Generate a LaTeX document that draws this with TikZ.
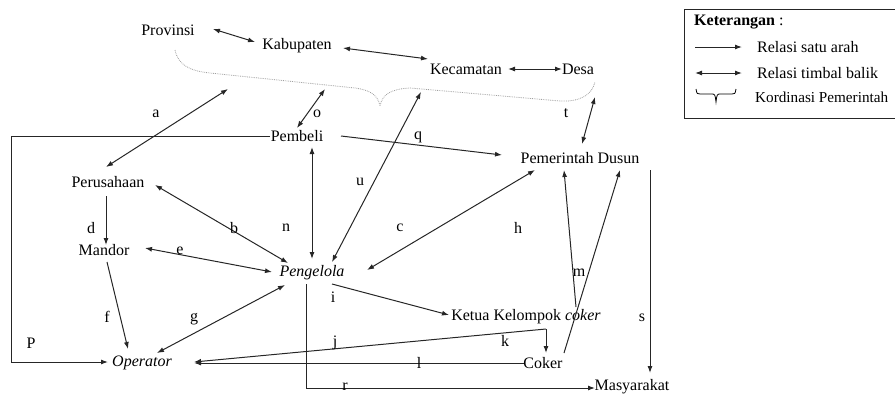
\documentclass[tikz,border=0pt]{standalone}
\usepackage{fontspec}
\setmainfont{Liberation Serif}
\usetikzlibrary{arrows.meta,calc}
\begin{document}
\begin{tikzpicture}[x=1pt,y=-1pt,
  txt/.style={inner sep=0pt, font=\fontsize{16}{18}\selectfont},
  lab/.style={inner sep=0pt, font=\fontsize{16}{18}\selectfont},
  one/.style={-{Latex[length=7pt,width=5pt]}, line width=1pt, draw=black!85},
  two/.style={{Latex[length=7pt,width=5pt]}-{Latex[length=7pt,width=5pt]}, line width=1pt, draw=black!85},
  plainline/.style={line width=1pt, draw=black!85},
  govbrace/.style={draw=gray!75, densely dotted, line width=0.8pt}]
\useasboundingbox (0,0) rectangle (895,394);
% nodes
\node[txt] (prov) at (168,30) {Provinsi};
\node[txt] (kab) at (297,46) {Kabupaten};
\node[txt] (kec) at (466,69) {Kecamatan};
\node[txt] (desa) at (578,69) {Desa};
\node[txt] (pemb) at (297,136) {Pembeli};
\node[txt] (pemdus) at (580,158) {Pemerintah Dusun};
\node[txt] (perus) at (108,182) {Perusahaan};
\node[txt] (mandor) at (104,250) {Mandor};
\node[txt] (peng) at (312,273) {\textit{Pengelola}};
\node[txt] (ketua) at (526,317) {Ketua Kelompok \textit{coker}};
\node[txt] (oper) at (142,363) {\textit{Operator}};
\node[txt] (coker) at (543,363) {Coker};
\node[txt] (masy) at (632,387) {Masyarakat};
% brace (government coordination)
\draw[govbrace] (175,50) .. controls (178,65) and (190,71) .. (210,73) -- (355,88) .. controls (370,90) and (378,95) .. (380,106) .. controls (382,95) and (390,89) .. (410,88) -- (560,101) .. controls (580,102) and (592,95) .. (595,82);
\coordinate (ba) at (228,89);
\coordinate (bo) at (325,89);
\coordinate (bu) at (421,92);
\coordinate (bt) at (595,97);
% government chain
\draw[two] ($(prov)+(45,-1)$) -- ($(kab)+(-42,-4)$);
\draw[two] ($(kab)+(46,2)$) -- ($(kec)+(-38,-10)$);
\draw[two] ($(kec)+(42,0)$) -- ($(desa)+(-16,0)$);
% links to brace
\draw[two] ($(perus)+(-2,-15)$) -- (ba);
\draw[two] ($(pemb)+(0,-8)$) -- (bo);
\draw[two] ($(peng)+(20,-11)$) -- (bu);
\draw[two] ($(pemdus)+(2,-14)$) -- (bt);
% other connectors
\draw[one] ($(pemb)+(44,0)$) -- ($(pemdus)+(-78,-3)$);
\draw[one] ($(pemb)+(-27,0)$) -- ++(-259,0) |- ($(oper)+(-34,-1)$);
\draw[two] ($(pemb)+(15,11)$) -- ($(peng)+(0,-14)$);
\draw[two] ($(perus)+(47,3)$) -- ($(peng)+(-24,-10)$);
\draw[one] ($(perus)+(-2,14)$) -- ($(mandor)+(2,-5)$);
\draw[two] ($(mandor)+(41,-2)$) -- ($(peng)+(-40,-1)$);
\draw[one] ($(mandor)+(3,12)$) -- ($(oper)+(-14,-14)$);
\draw[two] ($(oper)+(15,-10)$) -- ($(peng)+(-27,12)$);
\draw[two] ($(peng)+(55,-3)$) -- ($(pemdus)+(-45,12)$);
\draw[one] ($(peng)+(20,11)$) -- ($(ketua)+(-77,-2)$);
\draw[one] ($(ketua)+(50,-10)$) -- ($(pemdus)+(-16,12)$);
\draw[one] ($(coker)+(21,-10)$) -- ($(pemdus)+(40,12)$);
\coordinate (kc) at ($(ketua)+(20,12)$);
\draw[one] (kc) -- ($(oper)+(52,-1)$);
\draw[one] (kc) -- ($(coker)+(3,-10)$);
\draw[one] ($(coker)+(-19,0)$) -- ($(oper)+(52,0)$);
\draw[one] ($(peng)+(-6,11)$) |- ($(masy)+(-37,1)$);
\draw[one] ($(pemdus)+(70,12)$) -- ($(masy)+(18,-14)$);
% labels
\node[lab] (la) at (156,114) {a};
\node[lab] (lo) at (317,114) {o};
\node[lab] (lq) at (418,137) {q};
\node[lab] (lu) at (360,182) {u};
\node[lab] (lt) at (566,113) {t};
\node[lab] (ld) at (91,228) {d};
\node[lab] (lb) at (234,228) {b};
\node[lab] (ln) at (286,228) {n};
\node[lab] (lc) at (400,228) {c};
\node[lab] (lh) at (518,228) {h};
\node[lab] (le) at (180,251) {e};
\node[lab] (lm) at (579,273) {m};
\node[lab] (li) at (333,297) {i};
\node[lab] (lf) at (107,317) {f};
\node[lab] (lg) at (194,319) {g};
\node[lab] (ls) at (642,318) {s};
\node[lab] (lp) at (31,343) {P};
\node[lab] (lj) at (335,343) {j};
\node[lab] (lk) at (505,341) {k};
\node[lab] (ll) at (419,363) {l};
\node[lab] (lr) at (345,387) {r};
% legend
\draw[plainline] (895,9) -- (684,9) -- (684,118) -- (895,118);
\node[lab, anchor=west] (kt) at (694,22) {\textbf{Keterangan} :};
\coordinate (l1a) at (695,47); \coordinate (l1b) at (742,47);
\draw[one] (l1a) -- (l1b);
\node[lab, anchor=west] (k1) at (757,47) {Relasi satu arah};
\coordinate (l2a) at (695,73); \coordinate (l2b) at (742,73);
\draw[two] (l2a) -- (l2b);
\node[lab, anchor=west] (k2) at (757,73) {Relasi timbal balik};
\draw[line width=0.8pt] (696,89) .. controls (697,94) .. (700,94) -- (711,94) .. controls (715,94) .. (716,102) .. controls (717,94) .. (721,94) -- (732,94) .. controls (735,94) .. (736,89);
\node[lab, anchor=west, font=\fontsize{15.2}{18}\selectfont] (k3) at (755,97) {Kordinasi Pemerintah};
\end{tikzpicture}
\end{document}
